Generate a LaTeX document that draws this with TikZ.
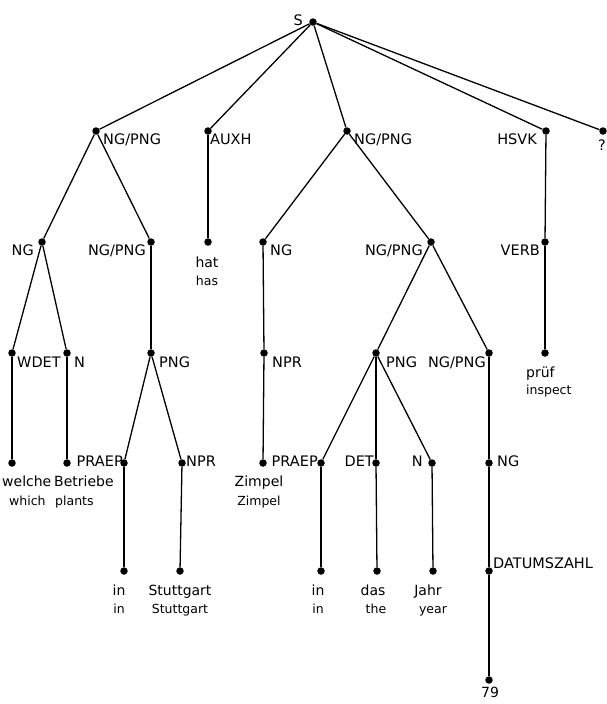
\documentclass[tikz,border=0pt]{standalone}
\usepackage{fontspec}
\setmainfont{DejaVu Sans}
\begin{document}
\begin{tikzpicture}[x=1pt,y=-1pt,
  dot/.style={circle,fill=black,inner sep=0pt,minimum size=7.5pt},
  lab/.style={inner sep=0pt,font=\fontsize{14.5}{16}\selectfont},
  wrd/.style={inner sep=0pt,font=\fontsize{14}{16}\selectfont},
  tr/.style={inner sep=0pt,font=\fontsize{12.5}{14}\selectfont},
  edge/.style={line width=1.3pt}]
\useasboundingbox (0,0) rectangle (606,704);
% level 0
\node[dot] (S) at (313,22) {};
\node[lab,anchor=base east] (Sl) at (303,25) {S};
% level 1
\node[dot] (A) at (96,131) {};
\node[lab,anchor=base west] (Al) at (103,144) {NG/PNG};
\node[dot] (B) at (208,131) {};
\node[lab,anchor=base west] (Bl) at (210,144) {AUXH};
\node[dot] (C) at (347,131) {};
\node[lab,anchor=base west] (Cl) at (354,144) {NG/PNG};
\node[dot] (D) at (546,131) {};
\node[lab,anchor=base east] (Dl) at (537,144) {HSVK};
\node[dot] (E) at (603,131) {};
\node[lab,anchor=base] (El) at (602,150) {?};
% level 2
\node[dot] (A1) at (42,242) {};
\node[lab,anchor=base east] (A1l) at (34,255) {NG};
\node[dot] (A2) at (151,242) {};
\node[lab,anchor=base east] (A2l) at (146,255) {NG/PNG};
\node[dot] (B1) at (208,242) {};
\node[wrd,anchor=base] (B1w) at (207,267) {hat};
\node[tr,anchor=base] (B1t) at (207,285) {has};
\node[dot] (C1) at (263,242) {};
\node[lab,anchor=base west] (C1l) at (270,255) {NG};
\node[dot] (C2) at (431,242) {};
\node[lab,anchor=base east] (C2l) at (423,255) {NG/PNG};
\node[dot] (D1) at (545,242) {};
\node[lab,anchor=base east] (D1l) at (540,255) {VERB};
% level 3
\node[dot] (A11) at (12,353) {};
\node[lab,anchor=base west] (A11l) at (17,367) {WDET};
\node[dot] (A12) at (67,353) {};
\node[lab,anchor=base west] (A12l) at (74,367) {N};
\node[dot] (A21) at (151,353) {};
\node[lab,anchor=base west] (A21l) at (159,367) {PNG};
\node[dot] (C11) at (264,353) {};
\node[lab,anchor=base west] (C11l) at (272,367) {NPR};
\node[dot] (C21) at (376,353) {};
\node[lab,anchor=base west] (C21l) at (386,367) {PNG};
\node[dot] (C22) at (489,353) {};
\node[lab,anchor=base east] (C22l) at (486,367) {NG/PNG};
\node[dot] (D11) at (545,353) {};
\node[wrd,anchor=base west] (D11w) at (526,377) {prüf};
\node[tr,anchor=base west] (D11t) at (526,394) {inspect};
% level 4
\node[dot] (A111) at (12,463) {};
\node[wrd,anchor=base west] (A111w) at (2,486) {welche};
\node[tr,anchor=base west] (A111t) at (9,505) {which};
\node[dot] (A121) at (67,463) {};
\node[wrd,anchor=base west] (A121w) at (54,486) {Betriebe};
\node[tr,anchor=base west] (A121t) at (55,505) {plants};
\node[dot] (A211) at (124,463) {};
\node[lab,anchor=base east] (A211l) at (123,466) {PRAEP};
\node[dot] (A212) at (182,463) {};
\node[lab,anchor=base west] (A212l) at (186,466) {NPR};
\node[dot] (C111) at (263,463) {};
\node[wrd,anchor=base] (C111w) at (259,486) {Zimpel};
\node[tr,anchor=base] (C111t) at (259,505) {Zimpel};
\node[dot] (C211) at (321,463) {};
\node[lab,anchor=base east] (C211l) at (318,466) {PRAEP};
\node[dot] (C212) at (376,463) {};
\node[lab,anchor=base east] (C212l) at (374,466) {DET};
\node[dot] (C213) at (432,463) {};
\node[lab,anchor=base east] (C213l) at (423,466) {N};
\node[dot] (C221) at (489,463) {};
\node[lab,anchor=base west] (C221l) at (497,466) {NG};
% level 5
\node[dot] (A2111) at (124,571) {};
\node[wrd,anchor=base] (A2111w) at (119,595) {in};
\node[tr,anchor=base] (A2111t) at (119,613) {in};
\node[dot] (A2121) at (180,571) {};
\node[wrd,anchor=base] (A2121w) at (180,595) {Stuttgart};
\node[tr,anchor=base] (A2121t) at (180,613) {Stuttgart};
\node[dot] (C2111) at (321,571) {};
\node[wrd,anchor=base] (C2111w) at (318,595) {in};
\node[tr,anchor=base] (C2111t) at (318,613) {in};
\node[dot] (C2121) at (377,571) {};
\node[wrd,anchor=base] (C2121w) at (373,595) {das};
\node[tr,anchor=base] (C2121t) at (376,613) {the};
\node[dot] (C2131) at (433,571) {};
\node[wrd,anchor=base] (C2131w) at (428,595) {Jahr};
\node[tr,anchor=base] (C2131t) at (433,613) {year};
\node[dot] (C2211) at (489,571) {};
\node[lab,anchor=base west] (C2211l) at (493,568) {DATUMSZAHL};
\node[dot] (C22111) at (489,680) {};
\node[wrd,anchor=base] (C22111w) at (490,697) {79};
% edges
\draw[edge] (S) -- (A);
\draw[edge] (S) -- (B);
\draw[edge] (S) -- (C);
\draw[edge] (S) -- (D);
\draw[edge] (S) -- (E);
\draw[edge] (A) -- (A1);
\draw[edge] (A) -- (A2);
\draw[edge] (B) -- (B1);
\draw[edge] (C) -- (C1);
\draw[edge] (C) -- (C2);
\draw[edge] (D) -- (D1);
\draw[edge] (A1) -- (A11);
\draw[edge] (A1) -- (A12);
\draw[edge] (A2) -- (A21);
\draw[edge] (C1) -- (C11);
\draw[edge] (C2) -- (C21);
\draw[edge] (C2) -- (C22);
\draw[edge] (D1) -- (D11);
\draw[edge] (A11) -- (A111);
\draw[edge] (A12) -- (A121);
\draw[edge] (A21) -- (A211);
\draw[edge] (A21) -- (A212);
\draw[edge] (C11) -- (C111);
\draw[edge] (C21) -- (C211);
\draw[edge] (C21) -- (C212);
\draw[edge] (C21) -- (C213);
\draw[edge] (C22) -- (C221);
\draw[edge] (A211) -- (A2111);
\draw[edge] (A212) -- (A2121);
\draw[edge] (C211) -- (C2111);
\draw[edge] (C212) -- (C2121);
\draw[edge] (C213) -- (C2131);
\draw[edge] (C221) -- (C2211);
\draw[edge] (C2211) -- (C22111);
\end{tikzpicture}
\end{document}
